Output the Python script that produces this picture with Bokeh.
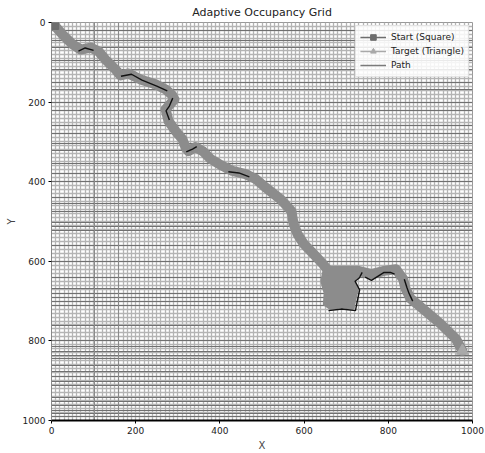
from bokeh.plotting import figure
from bokeh.models import Range1d, FixedTicker, Grid, Legend, LegendItem
from bokeh.embed import file_html
from bokeh.resources import INLINE

nan = float("nan")

# Planned route (cell centres, map units)
path_x = [5, 26, 50, 69, 93, 112, 128, 152, 164, 183, 211, 247, 271, 287, 292, 271, 278, 295,
          311, 318, 325, 342, 359, 378, 402, 430, 461, 485, 508, 544, 570, 575, 584, 599, 622,
          644, 658, 690, 729, 760, 790, 818, 835, 841, 853, 876, 924, 960, 976]
path_y = [5, 30, 55, 68, 63, 73, 93, 118, 133, 128, 143, 155, 168, 183, 193, 218, 248, 273,
          293, 313, 323, 313, 323, 343, 358, 373, 381, 393, 414, 444, 474, 506, 531, 556, 581,
          606, 624, 624, 624, 632, 624, 620, 644, 669, 694, 714, 757, 794, 825]

# Cells swept while the planner circled before leaving the obstacle pocket
loop_x = [648, 732, 726, 716, 726, 720, 716, 690, 662, 648, 650, 642]
loop_y = [620, 620, 640, 648, 670, 700, 718, 714, 718, 708, 680, 650]

# Raw odometry trace where it departs from the planned route
trace_x = [64, 80, 100, nan, 165, 190, 215, 250, 275, nan, 288, 280, 272, 280, nan,
           320, 335, 345, nan, 420, 445, 470, nan, 738, 731, 721, 732, 726, 722, 690, 658, nan,
           745, 760, 775, 790, 805, 815, nan, 838, 844, 849, 858]
trace_y = [72, 64, 70, nan, 135, 130, 145, 160, 172, nan, 190, 210, 222, 245, nan,
           325, 318, 312, nan, 375, 378, 388, nan, 628, 642, 650, 672, 702, 724, 720, 724, nan,
           640, 648, 638, 628, 628, 632, nan, 645, 665, 680, 700]

start_x, start_y = [5], [5]
target_x, target_y = [976], [825]

fine_cells = list(range(0, 1001, 10))
coarse_rows = [20, 45, 62, 95, 118, 152, 168, 200, 222, 258, 280, 305, 322, 355, 380, 400,
               440, 455, 476, 502, 512, 523, 561, 601, 640, 669, 682, 692, 701, 712, 761,
               799, 813, 826, 836, 845, 861, 878, 890, 903, 911, 941, 953, 963, 974, 982, 991]
coarse_cols = [103, 160]
axis_ticks = [0, 200, 400, 600, 800, 1000]

FONT = "DejaVu Sans"

p = figure(width=485, height=453, output_backend="svg", toolbar_location=None,
           title="Adaptive Occupancy Grid",
           x_range=Range1d(0, 1000), y_range=Range1d(1000, 0),
           min_border_left=51, min_border_right=13, min_border_top=4, min_border_bottom=20)

p.title.align = "center"
p.title.text_font = FONT
p.title.text_font_size = "11px"
p.title.text_font_style = "normal"
p.title.text_color = "#222222"
p.title.standoff = 7
p.title.offset = 0

for ax in (p.xaxis, p.yaxis):
    ax.ticker = FixedTicker(ticks=axis_ticks)
    ax.major_label_text_font = FONT
    ax.major_label_text_font_size = "9px"
    ax.major_label_text_color = "#222222"
    ax.axis_label_text_font = FONT
    ax.axis_label_text_font_size = "10px"
    ax.axis_label_text_font_style = "normal"
    ax.minor_tick_line_color = None
    ax.major_tick_out = 3
    ax.major_tick_in = 0
    ax.major_label_standoff = 3
    ax.axis_label_standoff = 3
p.xaxis.axis_label = "X"
p.yaxis.axis_label = "Y"
p.xaxis.axis_line_width = 2
p.yaxis.axis_line_color = "#888888"

p.outline_line_color = "#999999"

# fine cell boundaries
p.xgrid.ticker = FixedTicker(ticks=fine_cells)
p.ygrid.ticker = FixedTicker(ticks=fine_cells)
for g in (p.xgrid, p.ygrid):
    g.grid_line_color = "#b4b4b4"
    g.grid_line_alpha = 1
    g.grid_line_width = 1.3

# coarse (merged) cell boundaries
p.add_layout(Grid(dimension=1, ticker=FixedTicker(ticks=coarse_rows),
                  grid_line_color="#707070", grid_line_width=1))
p.add_layout(Grid(dimension=0, ticker=FixedTicker(ticks=coarse_cols),
                  grid_line_color="#8a8a8a", grid_line_width=1))

BAND = "#8c8c8c"
p.patch(loop_x, loop_y, fill_color=BAND, line_color=BAND, line_width=3)
path_r = p.line(path_x, path_y, line_color=BAND, line_width=10, line_join="round", line_cap="round")
p.line(trace_x, trace_y, line_color="#111111", line_width=1.4)

start_r = p.scatter(start_x, start_y, marker="square", size=10, color="#6e6e6e")
start_l = p.line(start_x, start_y, line_color="#6e6e6e", line_width=1.5)
target_r = p.scatter(target_x, target_y, marker="triangle", size=12, color="#a9a9a9")
target_l = p.line(target_x, target_y, line_color="#a9a9a9", line_width=1.5)
path_l = p.line(start_x, start_y, line_color="#7a7a7a", line_width=1.5)

legend = Legend(items=[
    LegendItem(label="Start (Square)", renderers=[start_l, start_r]),
    LegendItem(label="Target (Triangle)", renderers=[target_l, target_r]),
    LegendItem(label="Path", renderers=[path_l]),
], location="top_right")
legend.label_text_font = FONT
legend.label_text_font_size = "9px"
legend.label_text_color = "#222222"
legend.glyph_width = 26
legend.glyph_height = 14
legend.label_height = 13
legend.spacing = 0
legend.padding = 4
legend.margin = 3
legend.background_fill_alpha = 0.85
legend.border_line_color = "#cccccc"
p.add_layout(legend)

open("out.html", "w").write(file_html(p, INLINE))
